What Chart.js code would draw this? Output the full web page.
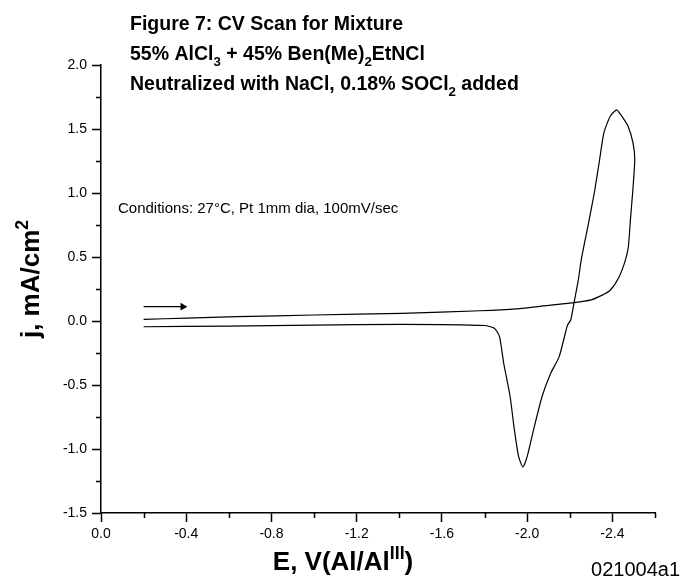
<!DOCTYPE html>
<html>
<head>
<meta charset="utf-8">
<script src="https://cdn.jsdelivr.net/npm/chart.js@4"></script>
<style>
  body { margin: 0; background: #fff; }
  #wrap { width: 683px; height: 586px; }
</style>
</head>
<body>
<div id="wrap"><canvas id="cvChart" width="683" height="586"></canvas></div>
<script>
  // CV scan, potential E (V) and current density j (mA/cm2)
  const scanE = [-0.20, -0.40, -0.64, -1.00, -1.41, -1.78, -1.95, -2.10, -2.22, -2.30,
    -2.35, -2.39, -2.43, -2.46, -2.475, -2.485, -2.495, -2.505, -2.497, -2.474,
    -2.44, -2.42, -2.39, -2.36, -2.34, -2.315, -2.285, -2.254, -2.24, -2.22,
    -2.205, -2.19, -2.18, -2.15, -2.11, -2.07, -2.03, -2.00, -1.98, -1.96,
    -1.94, -1.92, -1.89, -1.87, -1.846, -1.80, -1.41, -1.00, -0.60, -0.20];
  const scanJ = [0.013, 0.022, 0.034, 0.047, 0.060, 0.080, 0.095, 0.122, 0.143, 0.165,
    0.20, 0.24, 0.34, 0.47, 0.58, 0.80, 1.00, 1.26, 1.39, 1.52,
    1.61, 1.65, 1.60, 1.47, 1.26, 1.00, 0.74, 0.48, 0.32, 0.143,
    0.01, -0.03, -0.09, -0.28, -0.41, -0.59, -0.85, -1.06, -1.14, -1.06,
    -0.85, -0.59, -0.33, -0.12, -0.057, -0.035, -0.026, -0.033, -0.040, -0.045];

  // scan direction arrow
  const arrowE = [-0.20, -0.384];
  const arrowJ = [0.112, 0.112];

  const xTicks = [0, -0.4, -0.8, -1.2, -1.6, -2.0, -2.4];
  const xMinor = [-0.2, -0.6, -1.0, -1.4, -1.8, -2.2, -2.6];
  const yTicks = [-1.5, -1.0, -0.5, 0, 0.5, 1.0, 1.5, 2.0];
  const yMinor = [-1.25, -0.75, -0.25, 0.25, 0.75, 1.25, 1.75];

  const FONT = '"Liberation Sans", Arial, sans-serif';

  // draws text pieces; mode 0 normal, 1 subscript, 2 superscript
  function drawRich(ctx, parts, x, y, size, weight, align) {
    ctx.save();
    ctx.textBaseline = 'alphabetic';
    ctx.textAlign = 'left';
    let total = 0;
    const widths = parts.map(([t, m]) => {
      ctx.font = weight + ' ' + (m ? size * 0.68 : size) + 'px ' + FONT;
      const w = ctx.measureText(t).width;
      total += w;
      return w;
    });
    let cx = x;
    if (align === 'center') cx = x - total / 2;
    if (align === 'right') cx = x - total;
    parts.forEach(([t, m], i) => {
      ctx.font = weight + ' ' + (m ? size * 0.68 : size) + 'px ' + FONT;
      let dy = 0;
      if (m === 1) dy = size * 0.3;
      if (m === 2) dy = -size * 0.42;
      ctx.fillText(t, cx, y + dy);
      cx += widths[i];
    });
    ctx.restore();
  }

  const textPlugin = {
    id: 'cvText',
    afterDraw(chart) {
      const ctx = chart.ctx;
      const xs = chart.scales.x, ys = chart.scales.y;
      ctx.save();
      ctx.fillStyle = '#000';
      ctx.strokeStyle = '#000';
      ctx.lineWidth = 1.5;

      // minor ticks
      ctx.beginPath();
      yMinor.forEach(v => {
        const py = Math.round(ys.getPixelForValue(v)) + 0.5;
        ctx.moveTo(xs.left, py);
        ctx.lineTo(xs.left - 5, py);
      });
      xMinor.forEach(v => {
        const px = Math.round(xs.getPixelForValue(v)) + 0.5;
        ctx.moveTo(px, ys.bottom);
        ctx.lineTo(px, ys.bottom + 5);
      });
      ctx.stroke();

      // title
      drawRich(ctx, [['Figure 7: CV Scan for Mixture', 0]], 130, 30, 19.5, 'bold', 'left');
      drawRich(ctx, [['55% AlCl', 0], ['3', 1], [' + 45% Ben(Me)', 0], ['2', 1], ['EtNCl', 0]],
        130, 60, 19.5, 'bold', 'left');
      drawRich(ctx, [['Neutralized with NaCl, 0.18% SOCl', 0], ['2', 1], [' added', 0]],
        130, 90, 19.5, 'bold', 'left');

      // note
      drawRich(ctx, [['Conditions: 27°C, Pt 1mm dia, 100mV/sec', 0]], 118, 213, 15, 'normal', 'left');

      // axis titles
      drawRich(ctx, [['E, V(Al/Al', 0], ['III', 2], [')', 0]], 343, 570, 26, 'bold', 'center');
      ctx.save();
      ctx.translate(39, 279);
      ctx.rotate(-Math.PI / 2);
      drawRich(ctx, [['j, mA/cm', 0], ['2', 2]], 0, 0, 26, 'bold', 'center');
      ctx.restore();

      drawRich(ctx, [['021004a1', 0]], 680, 576, 20, 'normal', 'right');
      ctx.restore();
    }
  };

  const cvData = {
    datasets: [{
      label: 'CV scan',
      data: scanE.map((e, i) => ({ x: e, y: scanJ[i] })),
      showLine: true,
      borderColor: '#000',
      borderWidth: 1.2,
      pointRadius: 0,
      tension: 0.2
    }, {
      label: 'direction',
      data: arrowE.map((e, i) => ({ x: e, y: arrowJ[i] })),
      showLine: true,
      borderColor: '#000',
      backgroundColor: '#000',
      borderWidth: 1.2,
      pointStyle: 'triangle',
      pointRotation: 90,
      pointRadius: [0, 4.5],
      pointBorderWidth: 0
    }]
  };

  const cvConfig = {
    type: 'scatter',
    data: cvData,
    options: {
      responsive: false,
      animation: false,
      layout: { padding: { left: 50, top: 65, right: 28, bottom: 40 } },
      plugins: {
        legend: { display: false },
        tooltip: { enabled: false }
      },
      scales: {
        x: {
          type: 'linear',
          min: -2.6,
          max: 0,
          reverse: true,
          border: { color: '#000', width: 1.5 },
          grid: { drawOnChartArea: false, tickLength: 9, tickColor: '#000', tickWidth: 1.5 },
          ticks: {
            color: '#000',
            font: { family: FONT, size: 14 },
            padding: 4,
            maxRotation: 0,
            autoSkip: false,
            callback: v => v.toFixed(1)
          },
          afterBuildTicks: s => { s.ticks = xTicks.map(v => ({ value: v })); },
          afterFit: s => { s.height = 33; }
        },
        y: {
          type: 'linear',
          min: -1.5,
          max: 2.0,
          border: { color: '#000', width: 1.5 },
          grid: { drawOnChartArea: false, tickLength: 9, tickColor: '#000', tickWidth: 1.5 },
          ticks: {
            color: '#000',
            font: { family: FONT, size: 14 },
            padding: 5,
            autoSkip: false,
            callback: v => v.toFixed(1)
          },
          afterBuildTicks: s => { s.ticks = yTicks.map(v => ({ value: v })); },
          afterFit: s => { s.width = 51; }
        }
      }
    },
    plugins: [textPlugin]
  };

  const cvChart = new Chart(document.getElementById('cvChart'), cvConfig);
</script>
</body>
</html>
